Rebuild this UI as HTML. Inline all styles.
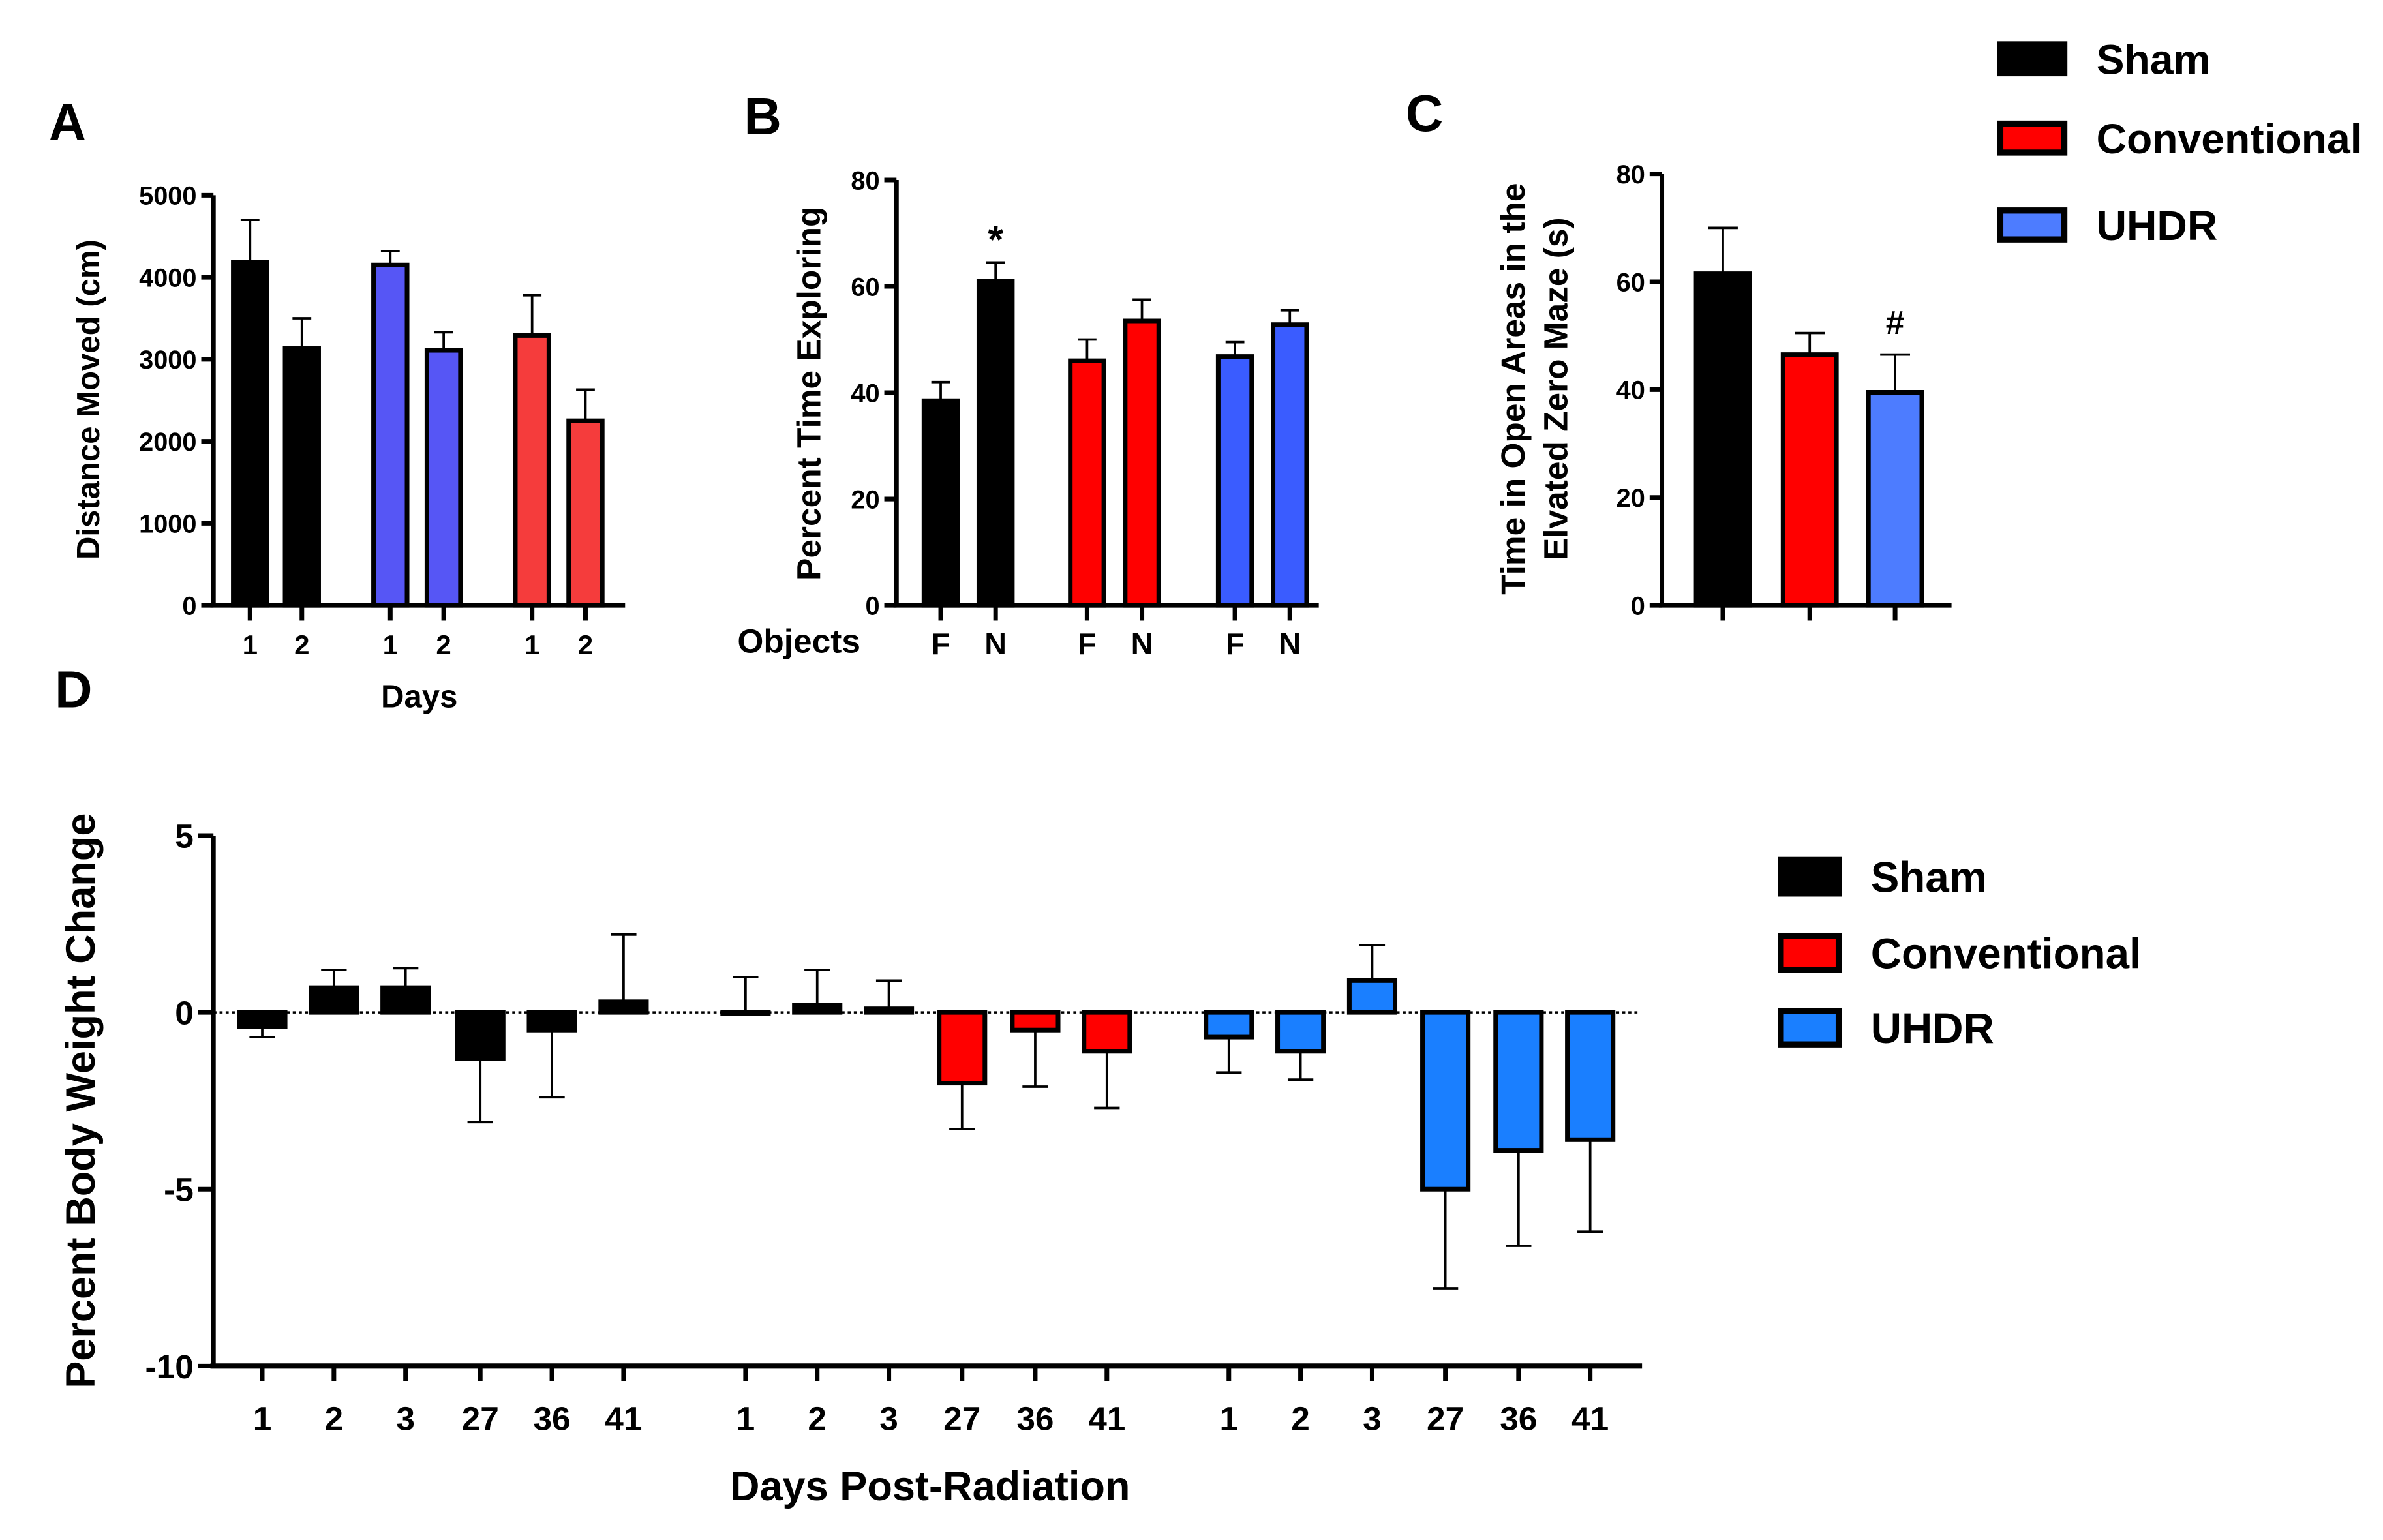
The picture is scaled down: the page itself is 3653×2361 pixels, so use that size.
<!DOCTYPE html>
<html><head><meta charset="utf-8">
<style>
html,body{margin:0;padding:0;background:#fff;}
svg{display:block;}
text{font-family:"Liberation Sans",sans-serif;font-weight:bold;fill:#000;}
</style></head>
<body>
<svg id="fig" width="3653" height="2361" viewBox="0 0 1563 1010" xmlns="http://www.w3.org/2000/svg">
<text x="32" y="92" font-size="34">A</text>
<text x="488" y="88" font-size="34">B</text>
<text x="922" y="86" font-size="34">C</text>
<text x="36" y="464" font-size="34">D</text>
<text transform="translate(65,262) rotate(-90)" text-anchor="middle" font-size="21">Distance Moved (cm)</text>
<text x="275" y="464" text-anchor="middle" font-size="21">Days</text>
<text transform="translate(538,258) rotate(-90)" text-anchor="middle" font-size="22">Percent Time Exploring</text>
<text x="524" y="428" text-anchor="middle" font-size="22">Objects</text>
<text transform="translate(1000,255) rotate(-90)" text-anchor="middle" font-size="22">Time in Open Areas in the</text>
<text transform="translate(1028,255) rotate(-90)" text-anchor="middle" font-size="22">Elvated Zero Maze (s)</text>
<text transform="translate(62,722) rotate(-90)" text-anchor="middle" font-size="27">Percent Body Weight Change</text>
<text x="610" y="984" text-anchor="middle" font-size="27">Days Post-Radiation</text>
<g id="g"></g>
</svg>
<script>
// Panel A data
const aCats = ["1","2","1","2","1","2"];
const aVals = [4180, 3130, 4150, 3110, 3290, 2250];
const aErr = [4700, 3500, 4320, 3330, 3780, 2630];
const aTicks = [0, 1000, 2000, 3000, 4000, 5000];
// Panel B data
const bCats = ["F","N","F","N","F","N"];
const bVals = [38.5, 61, 46, 53.5, 46.8, 52.8];
const bErr = [42, 64.5, 50, 57.5, 49.5, 55.5];
const bTicks = [0, 20, 40, 60, 80];
// Panel C data
const cVals = [61.5, 46.5, 39.5];
const cErr = [70, 50.5, 46.5];
const cTicks = [0, 20, 40, 60, 80];
// Panel D data
const dCats = ["1","2","3","27","36","41","1","2","3","27","36","41","1","2","3","27","36","41"];
const dVals = [-0.4, 0.7, 0.7, -1.3, -0.5, 0.3, 0, 0.2, 0.1, -2, -0.5, -1.1, -0.7, -1.1, 0.9, -5, -3.9, -3.6];
const dErr = [-0.7, 1.2, 1.25, -3.1, -2.4, 2.2, 1.0, 1.2, 0.9, -3.3, -2.1, -2.7, -1.7, -1.9, 1.9, -7.8, -6.6, -6.2];
const dTicks = [5, 0, -5, -10];

const NS = "http://www.w3.org/2000/svg";
const G = document.getElementById('g');
function mk(tag, at, parent){ const e=document.createElementNS(NS,tag); for(const k in at) e.setAttribute(k,at[k]); (parent||G).appendChild(e); return e; }
function lin(d0,d1,r0,r1){ return v => r0 + (v-d0)*(r1-r0)/(d1-d0); }

function axisY(x, y, ticks, tw, fs, name){
  const yTop = Math.min(...ticks.map(y)), yBot = Math.max(...ticks.map(y));
  const l = mk('line',{x1:x,y1:yTop,x2:x,y2:yBot,stroke:'#000','stroke-width':3});
  
  
  ticks.forEach(t=>{
    mk('line',{x1:x-tw,y1:y(t),x2:x,y2:y(t),stroke:'#000','stroke-width':3});
    const tx = mk('text',{x:x-tw-3,y:y(t)+fs*0.36,'text-anchor':'end','font-size':fs});
    tx.textContent = t;
    
    
  });
}
function bars(xs, vals, errs, y, w, colors, name, zero){
  vals.forEach((v,i)=>{
    const y0 = y(zero), y1 = y(v), e = y(errs[i]);
    mk('line',{x1:xs[i],y1:y1,x2:xs[i],y2:e,stroke:'#000','stroke-width':1.6});
    mk('line',{x1:xs[i]-w*0.28,y1:e,x2:xs[i]+w*0.28,y2:e,stroke:'#000','stroke-width':1.6});
    const r = mk('rect',{x:xs[i]-w/2,y:Math.min(y0,y1),width:w,height:Math.max(Math.abs(y1-y0),1),fill:colors[i],stroke:'#000','stroke-width':3});
    
    
  });
}
function xcats(xs, cats, yAx, fs, name, ty){
  cats.forEach((c,i)=>{
    mk('line',{x1:xs[i],y1:yAx,x2:xs[i],y2:yAx+10,stroke:'#000','stroke-width':3});
    if(c!==null){
      const t = mk('text',{x:xs[i],y:ty,'text-anchor':'middle','font-size':fs});
      t.textContent = c;
      
      
    }
  });
}
// Panel A
const ay = lin(0,5000,397,128);
const aX = [164,198,256,291,349,384];
const K='#000', PB='#5656f5', LR='#f53c3c', R='#ff0000', BB='#3a5cff', CB='#4d7cff', DB='#1a7fff';
bars(aX,aVals,aErr,ay,22,[K,K,PB,PB,LR,LR],'a',0);
axisY(140,ay,aTicks,8,17,'a');
mk('line',{x1:138,y1:397,x2:410,y2:397,stroke:'#000','stroke-width':3});
xcats(aX,aCats,397,18,'a',429);
// Panel B
const by = lin(0,80,397,118);
const bX = [617,653,713,749,810,846];
bars(bX,bVals,bErr,by,22,[K,K,R,R,BB,BB],'b',0);
axisY(588,by,bTicks,8,17,'b');
mk('line',{x1:586,y1:397,x2:865,y2:397,stroke:'#000','stroke-width':3});
xcats(bX,bCats,397,20,'b',429);
const st = mk('text',{x:bX[1],y:166,'text-anchor':'middle','font-size':26}); st.textContent='*';


// Panel C
const cy = lin(0,80,397,114);
const cX = [1130,1187,1243];
bars(cX,cVals,cErr,cy,35,[K,R,CB],'c',0);
axisY(1090,cy,cTicks,8,17,'c');
mk('line',{x1:1088,y1:397,x2:1280,y2:397,stroke:'#000','stroke-width':3});
xcats(cX,[null,null,null],397,17,'c',0);
const hs = mk('text',{x:cX[2],y:219,'text-anchor':'middle','font-size':22}); hs.textContent='#';


// Panel D
const dy = lin(0,-5,664,780);
const dX = [172,219,266,315,362,409,489,536,583,631,679,726,806,853,900,948,996,1043];
const dCol = dVals.map((v,i)=> i<6?K:(i<12?R:DB));
dCol[6]=K;dCol[7]=K;dCol[8]=K;
mk('line',{x1:140,y1:664,x2:1075,y2:664,stroke:'#000','stroke-width':1.5,'stroke-dasharray':'2,2'});
bars(dX,dVals,dErr,dy,30,dCol,'d',0);
axisY(140,dy,dTicks,10,22,'d');
mk('line',{x1:138,y1:896,x2:1077,y2:896,stroke:'#000','stroke-width':3.5});
xcats(dX,dCats,896,22,'d',938);
// Legends
function legend(x, ys, labels, colors, sw, sh, fs, tx, name){
  labels.forEach((l,i)=>{
    const r = mk('rect',{x:x,y:ys[i],width:sw,height:sh,fill:colors[i],stroke:'#000','stroke-width':4});
    
    
    const t = mk('text',{x:tx,y:ys[i]+sh/2+fs*0.36,'font-size':fs});
    t.textContent = l;
    
    
  });
}
legend(1312,[29,81,138],['Sham','Conventional','UHDR'],[K,R,CB],42,19,27.5,1375,'top-legend');
legend(1168,[564,614,663],['Sham','Conventional','UHDR'],[K,R,DB],38,22,28,1227,'d-legend');
</script>
</body></html>
